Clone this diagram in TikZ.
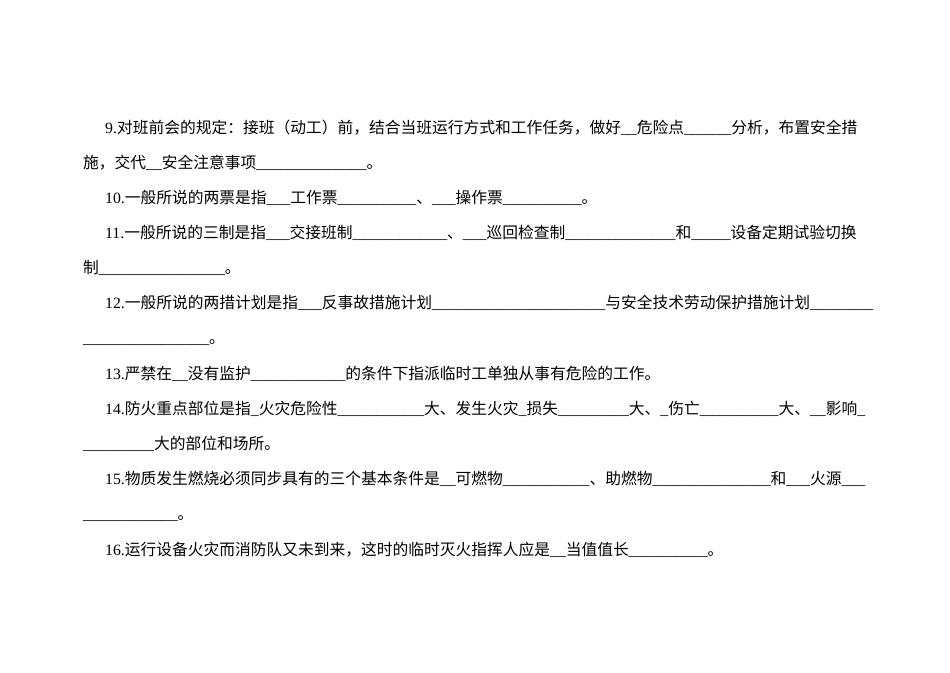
\documentclass[tikz,border=0pt]{standalone}
\usepackage{fontspec}
\setmainfont{Noto Sans CJK SC}
\newfontfamily\lat{Liberation Serif}
\newcommand\us[1]{{\lat\count255=0 \loop\ifnum\count255<#1 \_\advance\count255 by1 \repeat}}
\newcommand\n[1]{{\lat #1}}
\begin{document}
\begin{tikzpicture}[x=1pt,y=-1pt,line/.style={anchor=base west,inner sep=0pt,font=\fontsize{15.75}{15.75}\selectfont}]
\useasboundingbox[fill=white] (0,0) rectangle (950,672);
\node[line] (l1) at (105,133) {\n{9.}对班前会的规定：接班（动工）前，结合当班运行方式和工作任务，做好\us{2}危险点\us{6}分析，布置安全措};
\node[line] (l2) at (83,168) {施，交代\us{2}安全注意事项\us{14}。};
\node[line] (l3) at (105,203) {\n{10.}一般所说的两票是指\us{3}工作票\us{10}、\us{3}操作票\us{10}。};
\node[line] (l4) at (105,238) {\n{11.}一般所说的三制是指\us{3}交接班制\us{12}、\us{3}巡回检查制\us{14}和\us{5}设备定期试验切换};
\node[line] (l5) at (83,273) {制\us{16}。};
\node[line] (l6) at (105,308) {\n{12.}一般所说的两措计划是指\us{3}反事故措施计划\us{22}与安全技术劳动保护措施计划\us{8}};
\node[line] (l7) at (83,343) {\us{16}。};
\node[line] (l8) at (105,379) {\n{13.}严禁在\us{2}没有监护\us{12}的条件下指派临时工单独从事有危险的工作。};
\node[line] (l9) at (105,414) {\n{14.}防火重点部位是指\us{1}火灾危险性\us{11}大、发生火灾\us{1}损失\us{9}大、\us{1}伤亡\us{10}大、\us{2}影响\us{1}};
\node[line] (l10) at (83,449) {\us{9}大的部位和场所。};
\node[line] (l11) at (105,484) {\n{15.}物质发生燃烧必须同步具有的三个基本条件是\us{2}可燃物\us{11}、助燃物\us{15}和\us{3}火源\us{3}};
\node[line] (l12) at (83,519) {\us{12}。};
\node[line] (l13) at (105,555) {\n{16.}运行设备火灾而消防队又未到来，这时的临时灭火指挥人应是\us{2}当值值长\us{10}。};
\end{tikzpicture}
\end{document}
